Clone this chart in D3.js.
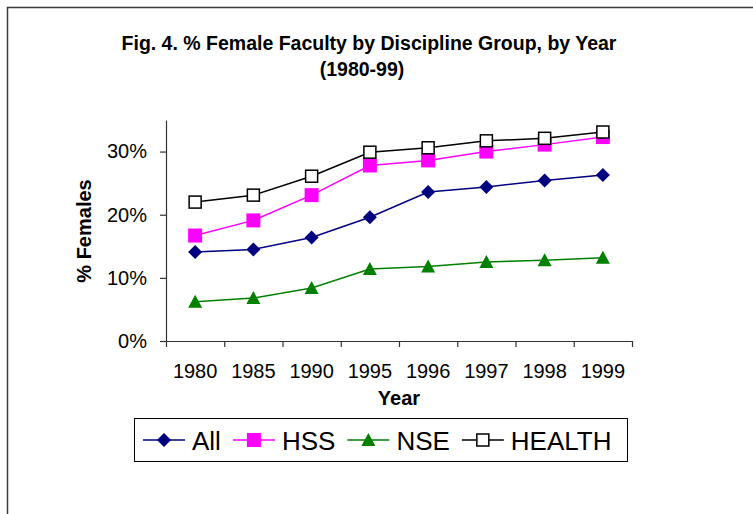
<!DOCTYPE html>
<html>
<head>
<meta charset="utf-8">
<script src="https://cdn.jsdelivr.net/npm/d3@7"></script>
<style>
  body { margin: 0; background: #fff; }
  text { font-family: Arial, "Liberation Sans", sans-serif; fill: #000; }
</style>
</head>
<body>
<div id="chart"></div>
<script>
// data
const years = ["1980", "1985", "1990", "1995", "1996", "1997", "1998", "1999"];
const allVals = [0.141, 0.145, 0.164, 0.196, 0.236, 0.244, 0.254, 0.263];
const hssVals = [0.167, 0.191, 0.231, 0.278, 0.286, 0.300, 0.311, 0.323];
const nseVals = [0.062, 0.068, 0.084, 0.114, 0.118, 0.125, 0.128, 0.132];
const healthVals = [0.220, 0.231, 0.261, 0.299, 0.306, 0.317, 0.321, 0.331];
const yTicks = [0, 0.1, 0.2, 0.3];

const series = [
  { key: "All", values: allVals, color: "#000080", marker: "diamond" },
  { key: "HSS", values: hssVals, color: "#ff00ff", marker: "square" },
  { key: "NSE", values: nseVals, color: "#008000", marker: "triangle" },
  { key: "HEALTH", values: healthVals, color: "#000000", marker: "hollow" }
];

const W = 753, H = 514;
const conf = { ml: 166, mr: 121, mt: 120, mb: 173 };

const svg = d3.select("#chart").append("svg")
  .attr("width", W).attr("height", H)
  .attr("viewBox", [0, 0, W, H]);

svg.append("rect").attr("width", W).attr("height", H).attr("fill", "#fff");

// outer frame (only left and top edges show in the picture)
svg.append("rect")
  .attr("x", 7.5).attr("y", 7.5)
  .attr("width", W + 20).attr("height", H + 20)
  .attr("fill", "none").attr("stroke", "#3a3a3a").attr("stroke-width", 1.5);

// title
const title = svg.append("g").attr("font-weight", "bold").attr("font-size", 19.5).attr("text-anchor", "middle");
title.append("text").attr("x", 369).attr("y", 49.5).text("Fig. 4. % Female Faculty by Discipline Group, by Year");
title.append("text").attr("x", 362).attr("y", 76).text("(1980-99)");

const x = d3.scaleBand().domain(years).range([conf.ml, W - conf.mr]).padding(0);
const xEdge = d3.scaleLinear().domain([0, years.length]).range([conf.ml, W - conf.mr]);
const y = d3.scaleLinear().domain([0, 0.35]).range([H - conf.mb, conf.mt]);
const cx = d => x(d) + x.bandwidth() / 2;

// y axis
svg.append("g")
  .attr("class", "yAxes")
  .attr("transform", `translate(${conf.ml},0)`)
  .call(d3.axisLeft(y).tickValues(yTicks).tickFormat(d3.format(".0%")).tickSizeInner(6).tickSizeOuter(0).tickPadding(13))
  .call(g => g.selectAll("line, path").attr("stroke", "#333").attr("stroke-width", 1.2))
  .call(g => g.selectAll("text").attr("font-size", 20).attr("font-family", null));

// x axis: tick marks between categories, labels at centres
svg.append("g")
  .attr("class", "xAxes")
  .attr("transform", `translate(0,${H - conf.mb})`)
  .call(d3.axisBottom(xEdge).ticks(years.length).tickFormat("").tickSizeInner(6).tickSizeOuter(0))
  .call(g => g.selectAll("line, path").attr("stroke", "#333").attr("stroke-width", 1.2));

svg.append("g")
  .attr("transform", `translate(0,${H - conf.mb})`)
  .call(d3.axisBottom(x).tickSize(0).tickPadding(23))
  .call(g => g.select(".domain").remove())
  .call(g => g.selectAll("text").attr("font-size", 20).attr("font-family", null));

// axis titles
svg.append("text")
  .attr("transform", "translate(91,231) rotate(-90)")
  .attr("text-anchor", "middle").attr("font-weight", "bold").attr("font-size", 20)
  .text("% Females");
svg.append("text")
  .attr("x", (conf.ml + W - conf.mr) / 2).attr("y", 405)
  .attr("text-anchor", "middle").attr("font-weight", "bold").attr("font-size", 20)
  .text("Year");

// marker shapes
function drawMarker(g, type, color) {
  if (type === "diamond") {
    g.append("path").attr("d", "M0,-7L7,0L0,7L-7,0Z").attr("fill", color);
  } else if (type === "square") {
    g.append("rect").attr("x", -7).attr("y", -7).attr("width", 14).attr("height", 14).attr("fill", color);
  } else if (type === "triangle") {
    g.append("path").attr("d", "M0,-7L7,6L-7,6Z").attr("fill", color);
  } else {
    g.append("rect").attr("x", -6).attr("y", -6).attr("width", 12).attr("height", 12)
      .attr("fill", "#fff").attr("stroke", color).attr("stroke-width", 1.5);
  }
}

const line = d3.line().x((d, i) => cx(years[i])).y(d => y(d));

series.forEach(s => {
  svg.append("path")
    .attr("fill", "none")
    .attr("stroke", s.color)
    .attr("stroke-width", 1.5)
    .attr("d", line(s.values));
  s.values.forEach((v, i) => {
    const g = svg.append("g").attr("transform", `translate(${cx(years[i])},${y(v)})`);
    drawMarker(g, s.marker, s.color);
  });
});

// legend
const legend = svg.append("g");
legend.append("rect")
  .attr("x", 134.5).attr("y", 418.5).attr("width", 493).attr("height", 43)
  .attr("fill", "#fff").attr("stroke", "#000").attr("stroke-width", 1);
let lx = 143;
series.forEach(s => {
  const g = legend.append("g");
  g.append("line").attr("x1", lx).attr("x2", lx + 42).attr("y1", 440).attr("y2", 440)
    .attr("stroke", s.color).attr("stroke-width", 1.5);
  drawMarker(g.append("g").attr("transform", `translate(${lx + 21},440)`), s.marker, s.color);
  const t = g.append("text").attr("x", lx + 49).attr("y", 450).attr("font-size", 26).text(s.key);
  lx += 49 + t.node().getComputedTextLength() + 12;
});
</script>
</body>
</html>
